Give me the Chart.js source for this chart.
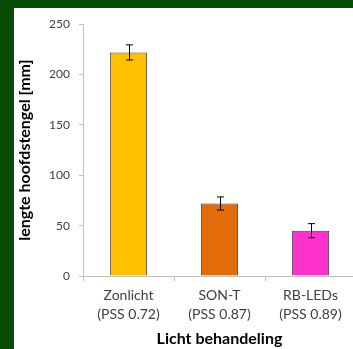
<!DOCTYPE html>
<html>
<head>
<meta charset="utf-8">
<script src="https://cdn.jsdelivr.net/npm/chart.js@4/dist/chart.umd.min.js"></script>
<style>
  html, body { margin: 0; padding: 0; overflow: hidden; background: #084c04; width: 353px; height: 349px; }
  #frame { position: absolute; left: 14px; top: 8px; width: 342px; height: 341px; background: #ffffff; }
  #frame canvas { display: block; }
</style>
</head>
<body>
<div id="frame"><canvas id="c" width="342" height="341"></canvas></div>
<script>
// Treatments, mean main-stem length and error margin (mm)
const categories = [["Zonlicht", "(PSS 0.72)"], ["SON-T", "(PSS 0.87)"], ["RB-LEDs", "(PSS 0.89)"]];
const stemLength = [222, 72, 45];
const stemError = [7.5, 6.5, 7];
const barColors = ["#ffc000", "#e36c0a", "#ff33cc"];
const yTicks = [0, 50, 100, 150, 200, 250];

// Whiskers: vertical line with short caps around each bar top
const errorBars = {
  id: "errorBars",
  afterDatasetsDraw(chart) {
    const ctx = chart.ctx;
    const y = chart.scales.y;
    const meta = chart.getDatasetMeta(0);
    ctx.save();
    ctx.strokeStyle = "#000000";
    ctx.lineWidth = 1;
    meta.data.forEach((bar, i) => {
      const x = Math.round(bar.x) + 0.5;
      const hi = y.getPixelForValue(stemLength[i] + stemError[i]);
      const lo = y.getPixelForValue(stemLength[i] - stemError[i]);
      ctx.beginPath();
      ctx.moveTo(x, hi); ctx.lineTo(x, lo);
      ctx.moveTo(x - 3.5, hi); ctx.lineTo(x + 3.5, hi);
      ctx.moveTo(x - 3.5, lo); ctx.lineTo(x + 3.5, lo);
      ctx.stroke();
    });
    ctx.restore();
  }
};

new Chart(document.getElementById("c"), {
  type: "bar",
  data: {
    labels: categories,
    datasets: [{
      data: stemLength,
      backgroundColor: barColors,
      borderColor: "#3f3f3f",
      borderWidth: 1,
      barPercentage: 0.41,
      categoryPercentage: 1
    }]
  },
  options: {
    responsive: false,
    animation: false,
    layout: { padding: { top: 10, left: 0, right: 0, bottom: 0 } },
    plugins: { legend: { display: false }, tooltip: { enabled: false } },
    scales: {
      x: {
        offset: true,
        grid: { offset: true, drawOnChartArea: false, drawTicks: true, tickLength: 5, color: "#bfbfbf" },
        border: { color: "#bfbfbf", width: 1 },
        ticks: { color: "#404040", padding: 5, font: { family: "Lato", size: 14, lineHeight: 1.35 } },
        title: { display: true, text: "Licht behandeling", color: "#000000", padding: { top: 0, bottom: 1 },
                 font: { family: "Lato", size: 16, weight: "bold" } },
        afterFit(s) { s.height = 73; }
      },
      y: {
        min: 0, max: 250,
        afterBuildTicks(s) { s.ticks = yTicks.map(v => ({ value: v })); },
        grid: { drawOnChartArea: false, drawTicks: true, tickLength: 4, color: "#bfbfbf" },
        border: { color: "#bfbfbf", width: 1 },
        ticks: { color: "#404040", padding: 9, font: { family: "Lato", size: 12 } },
        title: { display: true, text: "lengte hoofdstengel [mm]", color: "#000000", padding: { top: 1.5, bottom: 0 },
                 font: { family: "Lato", size: 16, weight: "bold" } },
        afterFit(s) { s.width = 69; }
      }
    }
  },
  plugins: [errorBars]
});
</script>
</body>
</html>
